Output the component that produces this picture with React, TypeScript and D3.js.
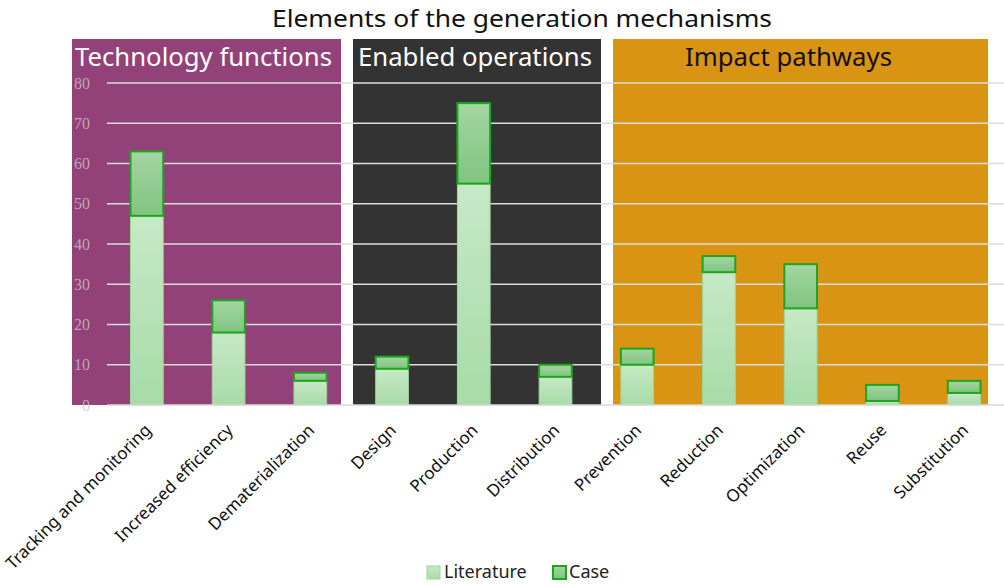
import React from "react";
import * as d3 from "d3";

// Categories grouped into the three mechanism elements
const categories = [
  "Tracking and monitoring",
  "Increased efficiency",
  "Dematerialization",
  "Design",
  "Production",
  "Distribution",
  "Prevention",
  "Reduction",
  "Optimization",
  "Reuse",
  "Substitution",
];
const literature = [47, 18, 6, 9, 55, 7, 10, 33, 24, 1, 3];
const caseStudies = [16, 8, 2, 3, 20, 3, 4, 4, 11, 4, 3];
const yTicks = [0, 10, 20, 30, 40, 50, 60, 70, 80];
const groupNames = ["Technology functions", "Enabled operations", "Impact pathways"];
const seriesNames = ["Literature", "Case"];

const W = 1004;
const H = 586;
const FONT = "'Noto Sans', 'Open Sans', sans-serif";

// Panel boxes behind each group of bars
const panels = [
  { x0: 72, x1: 341, fill: "#934179", text: "#ffffff", tx: 75, tl: 257 },
  { x0: 353, x1: 601, fill: "#333333", text: "#ffffff", tx: 358, tl: 234 },
  { x0: 613, x1: 988, fill: "#d99414", text: "#111111", tx: 685, tl: 207 },
];

export default function App() {
  const x = d3
    .scaleBand<string>()
    .domain(categories)
    .range([106, 1005])
    .paddingInner(0.6)
    .paddingOuter(0.3);
  const y = d3.scaleLinear().domain([0, 80]).range([405, 83]);
  const bw = x.bandwidth();

  return (
    <svg
      width={W}
      height={H}
      style={{ position: "absolute", left: 0, top: 0, background: "#ffffff" }}
      fontFamily={FONT}
    >
      <defs>
        <linearGradient id="litGrad" x1="0" y1="0" x2="0" y2="1">
          <stop offset="0" stopColor="#c7e9c7" />
          <stop offset="1" stopColor="#a7dba7" />
        </linearGradient>
        <linearGradient id="caseGrad" x1="0" y1="0" x2="0" y2="1">
          <stop offset="0" stopColor="#a3d6a3" />
          <stop offset="1" stopColor="#80c480" />
        </linearGradient>
      </defs>

      {/* title */}
      <text x={522} y={27} textAnchor="middle" fontSize={24} fill="#111" textLength={500} lengthAdjust="spacingAndGlyphs">
        Elements of the generation mechanisms
      </text>

      {/* group panels */}
      {panels.map((p, i) => (
        <rect key={i} x={p.x0} y={39} width={p.x1 - p.x0} height={405 - 39} fill={p.fill} />
      ))}

      {/* gridlines */}
      {yTicks.slice(1).map((t) => (
        <line key={t} x1={107} x2={W} y1={y(t)} y2={y(t)} stroke="#dcdcdc" strokeWidth={1.5} />
      ))}

      {/* stacked bars */}
      {categories.map((c, i) => {
        const x0 = x(c)!;
        const lit = literature[i];
        const tot = lit + caseStudies[i];
        return (
          <g key={c}>
            {lit > 0 && (
              <rect
                x={x0}
                y={y(lit)}
                width={bw}
                height={y(0) - y(lit)}
                fill="url(#litGrad)"
                stroke="#9cd69c"
                strokeWidth={1}
              />
            )}
            <rect
              x={x0}
              y={y(tot)}
              width={bw}
              height={y(lit) - y(tot)}
              fill="url(#caseGrad)"
              stroke="#1ea51e"
              strokeWidth={2}
            />
          </g>
        );
      })}

      {/* baseline */}
      <line x1={107} x2={W} y1={y(0)} y2={y(0)} stroke="#d9d9d9" strokeWidth={1.5} />

      {/* y tick labels */}
      {yTicks.map((t) => (
        <text
          key={t}
          x={90}
          y={y(t) + 2}
          textAnchor="end"
          dominantBaseline="middle"
          fontFamily="'Liberation Serif', 'DejaVu Serif', serif"
          fontSize={16}
          fill="#c4c4c4"
          fillOpacity={0.8}
        >
          {t}
        </text>
      ))}

      {/* panel headers */}
      {panels.map((p, i) => (
        <text
          key={i}
          x={p.tx}
          y={66}
          fontSize={25}
          fill={p.text}
          textLength={p.tl}
          lengthAdjust="spacingAndGlyphs"
        >
          {groupNames[i]}
        </text>
      ))}

      {/* category labels */}
      {categories.map((c) => {
        const cx = x(c)! + bw / 2;
        return (
          <text
            key={c}
            transform={`translate(${cx + 2},${428}) rotate(-45)`}
            textAnchor="end"
            dominantBaseline="middle"
            fontSize={17}
            fill="#111"
          >
            {c}
          </text>
        );
      })}

      {/* legend */}
      <g>
        <rect x={427} y={566} width={13} height={13} fill="url(#litGrad)" stroke="#9cd69c" strokeWidth={1} />
        <text x={444} y={573} dominantBaseline="middle" fontSize={18} fill="#222">
          {seriesNames[0]}
        </text>
        <rect x={553} y={566} width={13} height={13} fill="url(#caseGrad)" stroke="#1ea51e" strokeWidth={2} />
        <text x={569} y={573} dominantBaseline="middle" fontSize={18} fill="#222">
          {seriesNames[1]}
        </text>
      </g>
    </svg>
  );
}
